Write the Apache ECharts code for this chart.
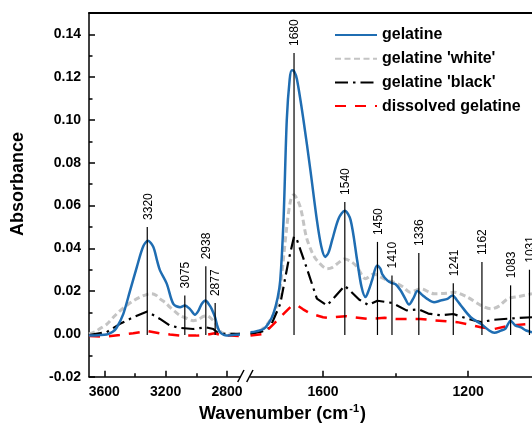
<!DOCTYPE html>
<html><head><meta charset="utf-8">
<script src="https://cdn.jsdelivr.net/npm/echarts@6/dist/echarts.min.js"></script>
<style>html,body{margin:0;padding:0;background:#fff}#c{width:532px;height:430px}</style>
</head><body><div id="c"></div><script>
// ---------- data (wavenumber cm-1, absorbance) ----------
const seriesNames = ['gelatine', "gelatine 'white'", "gelatine 'black'", 'dissolved gelatine'];

const gelatineLeft = [[3700,-0.0008],[3640,-0.0006],[3585,-0.0003],[3545,0.001],[3519,0.003],[3476,0.0094],[3433,0.020],[3389,0.031],[3346,0.041],[3315,0.0435],[3281,0.0407],[3255,0.034],[3237,0.0297],[3193,0.0235],[3150,0.014],[3106,0.0125],[3075,0.0133],[3040,0.0115],[3009,0.009],[2985,0.011],[2965,0.014],[2940,0.0156],[2915,0.0135],[2900,0.0117],[2878,0.0078],[2860,0.003],[2845,0.0008],[2820,-0.0005],[2802,-0.0008],[2760,-0.0005],[2715,-0.0003]];
const whiteLeft = [[3700,0],[3660,0.001],[3628,0.0025],[3585,0.0045],[3541,0.0078],[3498,0.0108],[3454,0.0133],[3410,0.0155],[3367,0.0172],[3320,0.0185],[3291,0.0188],[3260,0.018],[3237,0.0164],[3200,0.0145],[3172,0.0125],[3140,0.0105],[3106,0.0086],[3060,0.0072],[3020,0.0062],[2985,0.0068],[2954,0.0082],[2930,0.0085],[2900,0.007],[2875,0.005],[2857,0.0023],[2830,0.0005],[2800,0],[2715,0]];
const blackLeft = [[3700,-0.0005],[3585,0.0008],[3498,0.0047],[3411,0.0078],[3320,0.0105],[3237,0.007],[3172,0.0039],[3106,0.0028],[3020,0.0023],[2938,0.0031],[2889,0.0023],[2860,0.0005],[2840,0],[2715,0]];
const dissolvedLeft = [[3700,-0.001],[3600,-0.0013],[3500,-0.0005],[3411,0.0003],[3320,0.0014],[3240,0.0003],[3172,-0.0003],[3100,-0.0008],[3000,-0.0008],[2938,-0.0005],[2880,0.0003],[2840,-0.0005],[2780,-0.0008],[2715,-0.001]];

const gelatineRight = [[1800,0.0008],[1785,0.0012],[1764,0.0023],[1750,0.005],[1737,0.0094],[1725,0.017],[1718,0.025],[1709,0.053],[1700,0.100],[1692,0.119],[1686,0.1232],[1680,0.1228],[1672,0.119],[1654,0.100],[1635,0.0767],[1617,0.0532],[1605,0.041],[1594,0.036],[1585,0.038],[1575,0.0438],[1557,0.054],[1540,0.0576],[1524,0.0532],[1506,0.0344],[1494,0.022],[1483,0.0172],[1475,0.02],[1465,0.025],[1451,0.032],[1442,0.0305],[1437,0.028],[1423,0.025],[1410,0.0237],[1400,0.0232],[1386,0.0203],[1375,0.017],[1363,0.0137],[1350,0.017],[1340,0.020],[1325,0.018],[1313,0.0164],[1294,0.0148],[1276,0.0156],[1257,0.0164],[1243,0.018],[1232,0.016],[1220,0.0133],[1193,0.0078],[1165,0.0047],[1142,0.0016],[1128,0.0005],[1110,0.0015],[1097,0.0025],[1083,0.0062],[1070,0.004],[1054,0.003],[1040,0.0016],[1024,0.0008]];
const whiteRight = [[1800,0],[1770,0.002],[1746,0.0063],[1730,0.012],[1718,0.0219],[1700,0.050],[1690,0.062],[1681,0.065],[1663,0.0594],[1646,0.0453],[1630,0.038],[1617,0.0344],[1589,0.0305],[1575,0.031],[1561,0.0328],[1540,0.035],[1520,0.0335],[1506,0.0313],[1483,0.0258],[1460,0.028],[1442,0.0266],[1423,0.025],[1405,0.0242],[1380,0.022],[1360,0.0195],[1331,0.0211],[1294,0.0188],[1260,0.019],[1239,0.0195],[1202,0.0172],[1165,0.0133],[1137,0.0117],[1115,0.013],[1091,0.0164],[1060,0.0175],[1024,0.0188]];
const blackRight = [[1800,0],[1770,0.001],[1746,0.003],[1718,0.014],[1695,0.0344],[1680,0.0455],[1672,0.044],[1649,0.0328],[1617,0.0165],[1589,0.0133],[1540,0.0225],[1500,0.016],[1475,0.0135],[1450,0.0155],[1410,0.0145],[1370,0.011],[1336,0.0115],[1310,0.0095],[1276,0.0087],[1241,0.0093],[1200,0.007],[1165,0.0055],[1130,0.0066],[1083,0.0072],[1024,0.0078]];
const dissolvedRight = [[1800,-0.0008],[1764,0],[1740,0.004],[1718,0.0078],[1690,0.0125],[1672,0.0135],[1655,0.0115],[1635,0.0095],[1600,0.0078],[1589,0.0075],[1538,0.0083],[1478,0.007],[1430,0.0075],[1400,0.007],[1331,0.007],[1290,0.0063],[1230,0.0055],[1193,0.0042],[1165,0.0031],[1128,0.0023],[1087,0.0039],[1031,0.0047],[1024,0.0048]];

// peak marker lines: wavenumber, top of line
const peaksLeft = [[3320,0.050],[3075,0.018],[2938,0.0316],[2877,0.0144]];
const peaksRight = [[1680,0.1313],[1540,0.0617],[1450,0.043],[1410,0.0273],[1336,0.0378],[1241,0.0237],[1162,0.0336],[1083,0.0227],[1031,0.030]];

// axis ticks
const xTicksLeft = [3600, 3200, 2800];
const xMinorLeft = [3400, 3000];
const xTicksRight = [1600, 1200];
const xMinorRight = [1400];
const yTicks = [-0.02, 0, 0.02, 0.04, 0.06, 0.08, 0.10, 0.12, 0.14];
const yMinor = [-0.01, 0.01, 0.03, 0.05, 0.07, 0.09, 0.11, 0.13];

// ---------- chart ----------
const F = 'Arial, "Liberation Sans", sans-serif';
const styles = [
  {color: '#1f6db2', width: 2.5, type: 'solid'},
  {color: '#c4c4c4', width: 3, type: [6, 3.5]},
  {color: '#000000', width: 2.2, type: [13, 5, 2.5, 5]},
  {color: '#ff0000', width: 2.5, type: [11, 9]}
];
const smooths = [0.3, 0.3, false, false];

function lineSeries(i, data, xi, yi) {
  return {
    type: 'line', name: seriesNames[i], data: data, xAxisIndex: xi, yAxisIndex: yi,
    showSymbol: false, symbol: 'none', smooth: smooths[i], color: styles[i].color,
    lineStyle: {color: styles[i].color, width: styles[i].width, type: styles[i].type},
    animation: false, z: 2 + (i === 0 ? 3 : i)
  };
}
function peakSeries(data, xi, yi) {
  return {
    type: 'custom', xAxisIndex: xi, yAxisIndex: yi, data: data, animation: false, z: 10,
    renderItem: function (params, api) {
      const wn = api.value(0), top = api.value(1);
      const p0 = api.coord([wn, -0.0005]);
      const p1 = api.coord([wn, top]);
      return {type: 'group', children: [
        {type: 'line', shape: {x1: p0[0], y1: p0[1], x2: p1[0], y2: p1[1]},
         style: {stroke: '#000', lineWidth: 1.2}},
        {type: 'text', x: p1[0] + 1, y: p1[1] - 7, rotation: Math.PI / 2,
         style: {text: String(wn), font: '12px ' + F, fill: '#000', align: 'left', verticalAlign: 'middle'}}
      ]};
    }
  };
}
function xAxisMain(grid, min, max, ticks) {
  return {type: 'value', gridIndex: grid, min: min, max: max, inverse: true, position: 'bottom',
    axisLine: {show: true, onZero: false, lineStyle: {color: '#000', width: 1.5}},
    axisTick: {show: true, inside: true, length: 6, customValues: ticks, lineStyle: {color: '#000', width: 1.5}},
    axisLabel: {show: true, customValues: ticks, margin: 8, color: '#000', fontSize: 14, fontWeight: 'bold', fontFamily: F,
      formatter: function (v) { return String(v); }},
    splitLine: {show: false}};
}
function xAxisMinor(grid, min, max, ticks) {
  return {type: 'value', gridIndex: grid, min: min, max: max, inverse: true, position: 'bottom',
    axisLine: {show: false, onZero: false},
    axisTick: {show: true, inside: true, length: 3.5, customValues: ticks, lineStyle: {color: '#000', width: 1.5}},
    axisLabel: {show: false}, splitLine: {show: false}};
}

const chart = echarts.init(document.getElementById('c'), null, {renderer: 'canvas'});
chart.setOption({
  backgroundColor: '#fff',
  animation: false,
  grid: [
    {left: 89, top: 13, width: 151, bottom: 53.3},
    {left: 250.5, top: 13, right: 0, bottom: 53.3}
  ],
  xAxis: [
    xAxisMain(0, 2715, 3700, xTicksLeft),
    xAxisMinor(0, 2715, 3700, xMinorLeft),
    xAxisMain(1, 1024, 1800, xTicksRight),
    xAxisMinor(1, 1024, 1800, xMinorRight)
  ],
  yAxis: [
    {type: 'value', gridIndex: 0, min: -0.02, max: 0.15, position: 'left',
     axisLine: {show: true, onZero: false, lineStyle: {color: '#000', width: 1.5}},
     axisTick: {show: true, inside: true, length: 6, customValues: yTicks, lineStyle: {color: '#000', width: 1.5}},
     axisLabel: {show: true, customValues: yTicks, margin: 8, color: '#000', fontSize: 14, fontWeight: 'bold', fontFamily: F,
       formatter: function (v) { return v.toFixed(2); }},
     splitLine: {show: false}},
    {type: 'value', gridIndex: 0, min: -0.02, max: 0.15, position: 'left',
     axisLine: {show: false, onZero: false},
     axisTick: {show: true, inside: true, length: 3.5, customValues: yMinor, lineStyle: {color: '#000', width: 1.5}},
     axisLabel: {show: false}, splitLine: {show: false}},
    {type: 'value', gridIndex: 1, min: -0.02, max: 0.15, show: false, splitLine: {show: false}}
  ],
  legend: {
    data: seriesNames, orient: 'vertical', left: 334, top: 27, padding: 0,
    itemWidth: 42, itemHeight: 14, itemGap: 7.7,
    itemStyle: {opacity: 0, borderWidth: 0},
    textStyle: {fontSize: 16, fontWeight: 'bold', color: '#000', fontFamily: F, lineHeight: 16}
  },
  graphic: [
    {type: 'line', shape: {x1: 88.3, y1: 13, x2: 532, y2: 13}, style: {stroke: '#000', lineWidth: 1.8}, z: 100},
    {type: 'line', shape: {x1: 237.7, y1: 382, x2: 244, y2: 370}, style: {stroke: '#000', lineWidth: 1.5}, z: 100},
    {type: 'line', shape: {x1: 246.7, y1: 382, x2: 253, y2: 370}, style: {stroke: '#000', lineWidth: 1.5}, z: 100},
    {type: 'text', x: 18.5, y: 184, rotation: Math.PI / 2, z: 100,
     style: {text: 'Absorbance', font: 'bold 18px ' + F, fill: '#000', align: 'center', verticalAlign: 'middle'}},
    {type: 'text', x: 282.5, y: 413, z: 100,
     style: {text: '{a|Wavenumber (cm}{b|-1}{a|)}', align: 'center', verticalAlign: 'middle',
       rich: {a: {font: 'bold 18px ' + F, fill: '#000', lineHeight: 20, verticalAlign: 'bottom'},
              b: {font: 'bold 11px ' + F, fill: '#000', lineHeight: 20, verticalAlign: 'top', padding: [0, 1, 9, 1]}}}}
  ],
  series: [
    lineSeries(1, whiteLeft, 0, 0), lineSeries(2, blackLeft, 0, 0), lineSeries(3, dissolvedLeft, 0, 0), lineSeries(0, gelatineLeft, 0, 0),
    lineSeries(1, whiteRight, 2, 2), lineSeries(2, blackRight, 2, 2), lineSeries(3, dissolvedRight, 2, 2), lineSeries(0, gelatineRight, 2, 2),
    peakSeries(peaksLeft, 0, 0), peakSeries(peaksRight, 2, 2)
  ]
});
</script></body></html>
